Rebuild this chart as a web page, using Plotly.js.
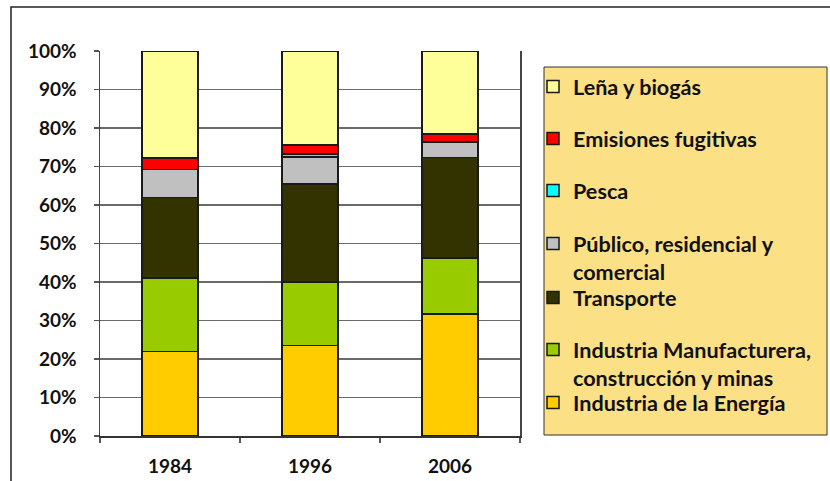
<!DOCTYPE html>
<html>
<head>
<meta charset="utf-8">
<script src="https://cdn.plot.ly/plotly-3.0.1.min.js"></script>
<style>html,body{margin:0;padding:0;background:#fff;}#chart{width:830px;height:481px;}</style>
</head>
<body>
<div id="chart"></div>
<script>
const years = ['1984', '1996', '2006'];
const energia = [21.9, 23.5, 31.7];
const manufacturera = [19.1, 16.5, 14.6];
const transporte = [20.9, 25.4, 26.0];
const publico = [7.3, 7.1, 4.1];
const pesca = [0, 0.8, 0];
const emisiones = [3.0, 2.3, 2.1];
const lena = [27.8, 24.4, 21.5];

const seriesNames = [
  'Industria de la Energía',
  'Industria Manufacturera,<br>construcción y minas',
  'Transporte',
  'Público, residencial y<br>comercial',
  'Pesca',
  'Emisiones fugitivas',
  'Leña y biogás'
];
const seriesValues = [energia, manufacturera, transporte, publico, pesca, emisiones, lena];
const seriesColors = ['#FFCC00', '#99CC00', '#333300', '#C0C0C0', '#00FFFF', '#FF0000', '#FFFF99'];

const FONT = 'Lato, "Open Sans", sans-serif';
const TICKFONT = {family: FONT, size: 19, color: '#111', weight: 'bold'};
const LEGFONT = {family: FONT, size: 21.6, color: '#111', weight: 'bold'};

// pixel row (centre of first text line) of each legend entry, bottom series first
const legendRowPx = [402, 349, 297, 243, 190, 138, 86];
const legendKeys = ['legend', 'legend2', 'legend3', 'legend4', 'legend5', 'legend6', 'legend7'];

const traces = seriesNames.map((n, i) => ({
  type: 'bar',
  name: n,
  x: years,
  y: seriesValues[i],
  legend: legendKeys[i],
  showlegend: true,
  marker: {color: seriesColors[i], line: {color: '#1a1a1a', width: 1.5}},
  hoverinfo: 'x+y+name'
}));

const W = 830, H = 481;
const PLOT_L = 100, PLOT_R = 520, PLOT_T = 51, PLOT_B = 436;
const px2x = p => (p - PLOT_L) / (PLOT_R - PLOT_L);
const px2y = p => (PLOT_B - p) / (PLOT_B - PLOT_T);

const layout = {
  width: W,
  height: H,
  showlegend: true,
  margin: {l: PLOT_L, r: W - PLOT_R, t: PLOT_T, b: H - PLOT_B, pad: 0, autoexpand: false},
  paper_bgcolor: '#ffffff',
  plot_bgcolor: '#ffffff',
  barmode: 'stack',
  bargap: 0.6,
  font: {family: FONT, size: 19, color: '#111111', weight: 'bold'},
  xaxis: {
    type: 'category',
    tickson: 'boundaries',
    ticks: 'outside',
    ticklen: 5,
    tickcolor: '#555',
    tickwidth: 1.5,
    showline: true,
    linecolor: '#333',
    linewidth: 1.5,
    showgrid: false,
    ticklabelstandoff: 13,
    tickfont: TICKFONT,
    fixedrange: true
  },
  yaxis: {
    range: [0, 100],
    dtick: 10,
    ticksuffix: '%',
    ticks: 'outside',
    ticklen: 5,
    tickcolor: '#555',
    tickwidth: 1.5,
    showline: true,
    mirror: true,
    linecolor: '#444',
    linewidth: 1.5,
    showgrid: true,
    gridcolor: '#6a6a6a',
    gridwidth: 1.2,
    zeroline: false,
    ticklabelstandoff: 13,
    tickfont: TICKFONT,
    fixedrange: true
  },
  shapes: [
    {type: 'rect', xref: 'paper', yref: 'paper', layer: 'below',
     x0: px2x(544), x1: px2x(827), y0: px2y(435), y1: px2y(67),
     fillcolor: '#FCE085', line: {color: '#333', width: 1}},
    {type: 'rect', xref: 'paper', yref: 'paper', layer: 'below',
     x0: px2x(11), x1: px2x(900), y0: px2y(520), y1: px2y(7),
     fillcolor: 'rgba(0,0,0,0)', line: {color: '#222', width: 1.5}}
  ]
};

legendKeys.forEach((k, i) => {
  layout[k] = {
    visible: true,
    xref: 'container',
    yref: 'container',
    x: 533 / W,
    xanchor: 'left',
    y: 1 - (legendRowPx[i] - 20) / H,
    yanchor: 'top',
    bgcolor: 'rgba(0,0,0,0)',
    borderwidth: 0,
    valign: 'top',
    font: LEGFONT
  };
});

Plotly.newPlot('chart', traces, layout, {displayModeBar: false, staticPlot: true});
</script>
</body>
</html>
